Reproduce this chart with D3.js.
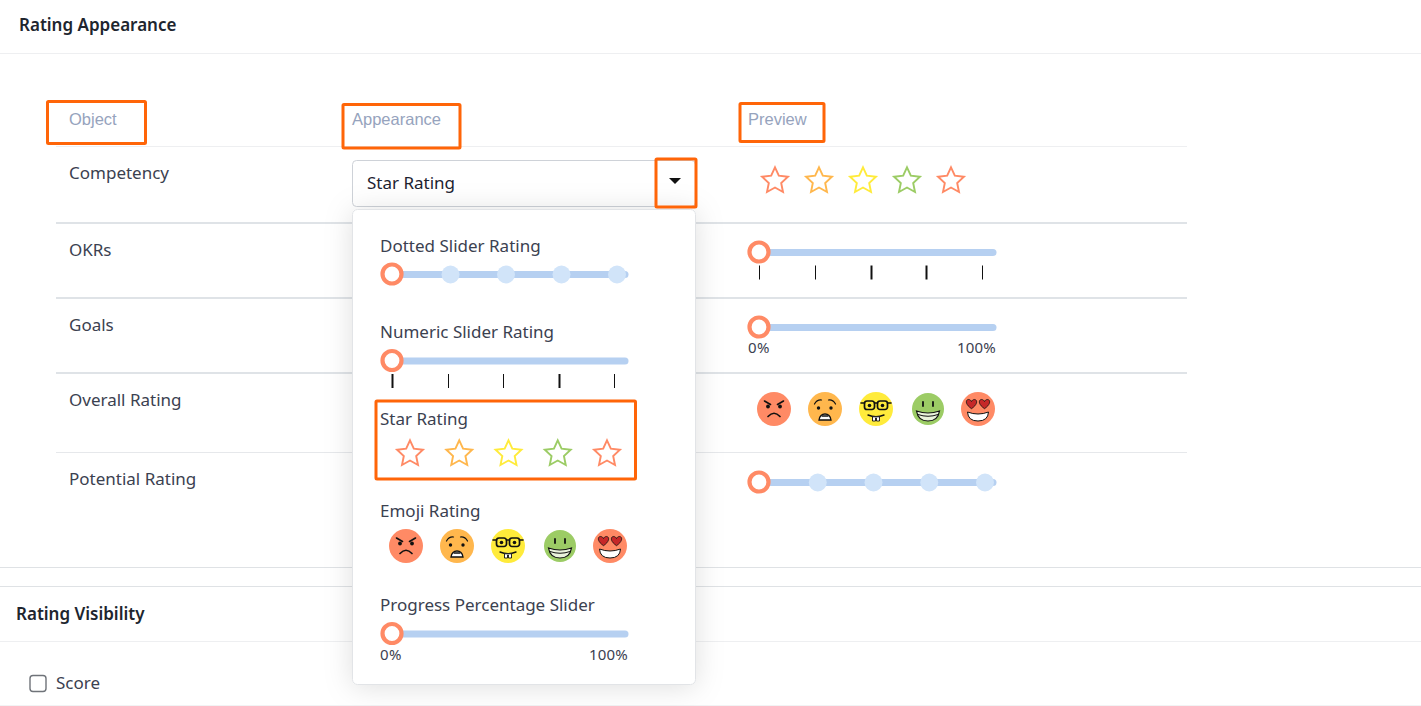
<!DOCTYPE html>
<html>
<head>
<meta charset="utf-8">
<script src="https://cdn.jsdelivr.net/npm/d3@7"></script>
<style>
html,body{margin:0;padding:0;background:#fff;overflow:hidden}
svg{display:block}
text{font-family:"Noto Sans",sans-serif}
</style>
</head>
<body>
<svg id="c" width="1421" height="706"></svg>
<script>
const sectionTitles = ["Rating Appearance", "Rating Visibility"];
const columnTitles = ["Object", "Appearance", "Preview"];
const rowLabels = ["Competency", "OKRs", "Goals", "Overall Rating", "Potential Rating"];
const optionLabels = ["Dotted Slider Rating", "Numeric Slider Rating", "Star Rating", "Emoji Rating", "Progress Percentage Slider"];
const selectedLabel = "Star Rating";
const ratingSteps = [1, 2, 3, 4, 5];
const emojiNames = ["angry", "worried", "nerd", "grin", "love"];
const percentLabels = ["0%", "100%"];
const checkboxLabel = "Score";

const ratingColor = d3.scaleOrdinal(ratingSteps, ["#ff8a65", "#ffb74d", "#ffeb3b", "#9ccc65", "#ff8a65"]);
const ORANGE = "#ff6508", TRACK = "#b6d0f1", DOT = "#d1e4f9", THUMB = "#ff8a65", INK = "#3b4150";

const svg = d3.select("#c");
const defs = svg.append("defs");
const f = defs.append("filter").attr("id", "sh").attr("x", "-20%").attr("y", "-20%").attr("width", "140%").attr("height", "140%");
f.append("feDropShadow").attr("dx", 0).attr("dy", 2).attr("stdDeviation", 14).attr("flood-color", "#000").attr("flood-opacity", 0.13);

function label(g, s, x, y, o = {}) {
  return g.append("text").attr("x", x).attr("y", y).text(s)
    .attr("font-size", o.size || 17).attr("fill", o.fill || INK)
    .attr("font-weight", o.weight || 400).attr("text-anchor", o.anchor || "start")
    .style("font-family", o.family || null).style("letter-spacing", o.spacing || null);
}
function rule(g, x1, x2, y, color, w) {
  g.append("line").attr("x1", x1).attr("x2", x2).attr("y1", y).attr("y2", y).attr("stroke", color).attr("stroke-width", w || 1);
}
function box(g, x0, y0, x1, y1) {
  g.append("rect").attr("x", x0).attr("y", y0).attr("width", x1 - x0).attr("height", y1 - y0)
    .attr("fill", "none").attr("stroke", ORANGE).attr("stroke-width", 3).attr("rx", 1);
}

// Page structure
const base = svg.append("g");
label(base, sectionTitles[0], 19, 31, {weight: 600, fill: "#20252e"});
label(base, sectionTitles[1], 16, 620, {weight: 600, fill: "#20252e"});
rule(base, 0, 1421, 53.5, "#eeeff1");
[567.5, 586.5].forEach(y => rule(base, 0, 1421, y, "#dfe2e5"));
rule(base, 0, 1421, 641.5, "#eeeff1");
rule(base, 0, 1421, 705.5, "#f2f3f4");
rule(base, 56, 1187, 146.5, "#eeeff1");
[223, 298, 373].forEach(y => rule(base, 56, 1187, y, "#dfe3e7", 2));
rule(base, 56, 1187, 452.5, "#e6e8eb");

const colX = d3.scaleOrdinal(columnTitles, [69, 352, 748]);
columnTitles.forEach(t => label(base, t, colX(t), 125, {fill: "#96a3bd", family: "Liberation Sans", size: 16.5}));

const rowY = d3.scaleOrdinal(rowLabels, [179, 256, 331, 406, 485]);
rowLabels.forEach(r => label(base, r, 69, rowY(r)));

// Checkbox
base.append("rect").attr("x", 30).attr("y", 675.5).attr("width", 16).attr("height", 16).attr("rx", 3)
  .attr("fill", "#fff").attr("stroke", "#6f7379").attr("stroke-width", 1.4);
label(base, checkboxLabel, 56, 689);

// Widgets
function sliderTrack(g, x0, x1, y) {
  g.append("line").attr("x1", x0).attr("x2", x1 - 3).attr("y1", y).attr("y2", y)
    .attr("stroke", TRACK).attr("stroke-width", 7).attr("stroke-linecap", "round");
}
function thumb(g, x, y) {
  g.append("circle").attr("cx", x).attr("cy", y).attr("r", 9.5).attr("fill", "#fff")
    .attr("stroke", THUMB).attr("stroke-width", 4.2);
}
function dotted(g, x0, x1, trackEnd, y) {
  const sx = d3.scalePoint(ratingSteps, [x0 + 3, x1]);
  sliderTrack(g, x0, trackEnd, y);
  g.selectAll(null).data(ratingSteps.slice(1)).join("circle")
    .attr("cx", d => sx(d)).attr("cy", y).attr("r", 9).attr("fill", DOT);
  thumb(g, x0, y - 0.5);
}
function numeric(g, x0, x1, trackEnd, y, heavy) {
  const sx = d3.scalePoint(ratingSteps, [x0, x1]);
  sliderTrack(g, x0, trackEnd, y);
  g.selectAll(null).data(ratingSteps).join("line")
    .attr("x1", d => Math.round(sx(d)) + 0.5).attr("x2", d => Math.round(sx(d)) + 0.5)
    .attr("y1", y + 13).attr("y2", y + 27).attr("stroke", "#111")
    .attr("stroke-width", d => heavy.includes(d) ? 2 : 1);
  thumb(g, sx(1), y - 0.5);
}
function percent(g, x0, trackEnd, y, lx) {
  sliderTrack(g, x0, trackEnd, y);
  thumb(g, x0, y - 0.5);
  label(g, percentLabels[0], lx, y + 25.5, {size: 15, spacing: "0.5px"});
  label(g, percentLabels[1], trackEnd, y + 25.5, {size: 15, anchor: "end", spacing: "0.2px"});
}
// Five-pointed star outline with a full inner radius, as in the reference
const starPoints = d3.range(10).map(i => [i * Math.PI / 5, i % 2 ? 6.5 : 13.6]);
const starPath = d3.lineRadial().curve(d3.curveLinearClosed)(starPoints);
function stars(g, x0, x1, y) {
  const sx = d3.scalePoint(ratingSteps, [x0, x1]);
  g.selectAll(null).data(ratingSteps).join("path")
    .attr("d", starPath).attr("transform", d => `translate(${sx(d)},${y})`)
    .attr("fill", "#fff").attr("stroke", d => ratingColor(d)).attr("stroke-width", 1.9)
    .attr("stroke-linejoin", "miter");
}
const heart = "M0 4.5C-6 .5-5 -3.5-2.6 -3.5-1.3 -3.5-.4 -2.6 0 -1.7.4 -2.6 1.3 -3.5 2.6 -3.5 5 -3.5 6 .5 0 4.5Z";
function faceDetails(g, name) {
  const K = "#111";
  const line = (d, w = 1.3) => g.append("path").attr("d", d).attr("fill", "none").attr("stroke", K).attr("stroke-width", w).attr("stroke-linecap", "round");
  const dot = (x, y, r) => g.append("circle").attr("cx", x).attr("cy", y).attr("r", r).attr("fill", K);
  if (name === "angry") {
    line("M-9.5 -8L-3.5 -4.5", 1.6); line("M9.5 -8L3.5 -4.5", 1.6);
    dot(-6, -2.5, 1.9); dot(6, -2.5, 1.9);
    line("M-6 7.5Q0 1 6 7.5", 1.7);
  } else if (name === "worried") {
    line("M-10.5 -5Q-8 -9.5 -3.5 -9", 1.2); line("M10.5 -5Q8 -9.5 3.5 -9", 1.2);
    dot(-6.5, -1, 1.7); dot(6, -1, 1.7);
    g.append("path").attr("d", "M-6 11Q-5 5 0 5Q5 5 6 11Z").attr("fill", "#fff").attr("stroke", K).attr("stroke-width", 1.3);
    line("M-3 7H3", 1.3);
  } else if (name === "nerd") {
    g.append("rect").attr("x", -11.5).attr("y", -8).attr("width", 10).attr("height", 8.5).attr("rx", 2.5).attr("fill", "none").attr("stroke", K).attr("stroke-width", 1.7);
    g.append("rect").attr("x", 1.5).attr("y", -8).attr("width", 10).attr("height", 8.5).attr("rx", 2.5).attr("fill", "none").attr("stroke", K).attr("stroke-width", 1.7);
    line("M-15 -6H-11.5M-1.5 -6H1.5M11.5 -6H15", 1.6);
    dot(-6.5, -3.5, 1.8); dot(6.5, -3.5, 1.8);
    line("M-8 6Q0 9.5 8 6", 1.4);
    g.append("path").attr("d", "M-3.5 7.8H3.5V12H.5V9H-.5V12H-3.5Z").attr("fill", "#fff").attr("stroke", K).attr("stroke-width", .9);
  } else if (name === "grin") {
    line("M-5 -7V-3", 1.8); line("M5 -7V-3", 1.8);
    g.append("path").attr("d", "M-11.5 2Q0 6 11.5 2Q10 12 0 12Q-10 12 -11.5 2Z").attr("fill", "#eaf3dc").attr("stroke", K).attr("stroke-width", 1.2);
    g.append("path").attr("d", "M-10 5.5Q0 9 10 5.5").attr("fill", "none").attr("stroke", K).attr("stroke-width", 1);
  } else {
    [-6.5, 6.5].forEach(x => g.append("path").attr("d", heart).attr("transform", `translate(${x},-5.5) scale(1.15)`).attr("fill", "#c62828").attr("stroke", K).attr("stroke-width", .7));
    g.append("path").attr("d", "M-10.5 3Q0 7 10.5 3Q10 12 0 12Q-10 12 -10.5 3Z").attr("fill", "#fff").attr("stroke", K).attr("stroke-width", 1);
  }
}
function emojis(g, x0, x1, y) {
  const sx = d3.scalePoint(ratingSteps, [x0, x1]);
  ratingSteps.forEach((d, i) => {
    const e = g.append("g").attr("transform", `translate(${sx(d) + (d === 4 ? 1 : 0)},${y})`);
    e.append("circle").attr("r", d === 4 ? 16 : 17).attr("fill", ratingColor(d));
    faceDetails(e, emojiNames[i]);
  });
}

// Preview column
const preview = svg.append("g");
stars(preview, 775, 951, 181);
numeric(preview, 759, 982, 996, 252.5, [3, 4]);
percent(preview, 759, 996, 327.5, 748);
emojis(preview, 774, 978, 409);
dotted(preview, 759, 985, 996, 482.5);

// Select control
const sel = svg.append("g");
sel.append("rect").attr("x", 352.5).attr("y", 160.5).attr("width", 343).attr("height", 46).attr("rx", 4)
  .attr("fill", "#fff").attr("stroke", "#ced2d8");
label(sel, selectedLabel, 367, 189, {fill: "#1c2230"});
sel.append("path").attr("d", d3.line()([[669, 178], [681, 178], [675, 184]])).attr("fill", "#111");

// Dropdown panel
const menu = svg.append("g");
menu.append("rect").attr("x", 352.5).attr("y", 209.5).attr("width", 343).attr("height", 475).attr("rx", 5)
  .attr("fill", "#fff").attr("stroke", "#e2e4e7").attr("filter", "url(#sh)");
const optionY = d3.scaleOrdinal(optionLabels, [252, 338, 425, 517, 611]);
optionLabels.forEach(o => label(menu, o, 380, optionY(o)));
dotted(menu, 392, 617, 628, 274.5);
numeric(menu, 392, 614, 628, 361, [1, 4]);
stars(menu, 410, 607, 454);
emojis(menu, 406, 610, 546);
percent(menu, 392, 628, 634, 380);

// Annotation boxes
const notes = svg.append("g");
box(notes, 47.5, 101.5, 145.5, 143.5);
box(notes, 343, 104.5, 460, 148);
box(notes, 740, 103.5, 824, 141.5);
box(notes, 656, 159, 696, 207);
box(notes, 376, 401, 635.5, 479);
</script>
</body>
</html>
